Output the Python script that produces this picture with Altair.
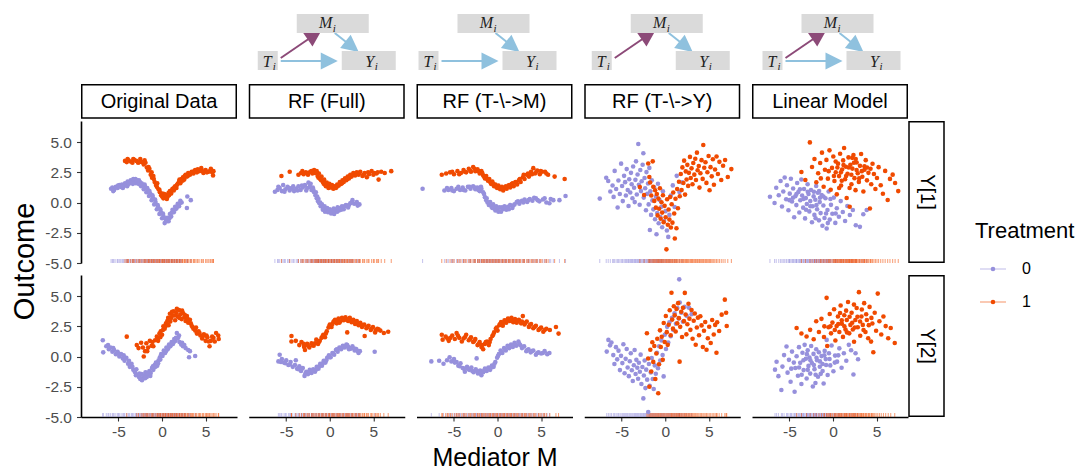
import math
import altair as alt
import pandas as pd

# ---------------- colours & text ----------------
PURPLE = "#9690dc"
ORANGE = "#f04a00"
DAG_PURPLE = "#8c4a78"
DAG_BLUE = "#8fc1de"
BOX_GRAY = "#dadada"
FONT = "Liberation Sans"

MODELS = ["Original Data", "RF (Full)", "RF (T-\\->M)", "RF (T-\\->Y)", "Linear Model"]
OUTCOMES = ["Y[1]", "Y[2]"]
TREATMENTS = ["0", "1"]
X_TICKS = [-5, 0, 5]
Y_TICKS = [-5.0, -2.5, 0.0, 2.5, 5.0]
X_DOMAIN = [-9.3, 8.6]
Y_DOMAIN = [-5.0, 6.75]
RUG_LEVEL = -5.0

# ---------------- data (mediator M, outcome) per panel ----------------
# Original Data, Y[1]
od1_t0 = [(-5.85,1.15),(-5.7,1.25),(-5.5,1.05),(-5.3,1.3),(-5.1,1.2),(-4.9,1.45),(-4.75,1.3),(-4.6,1.5),(-4.4,1.35),(-4.25,1.6),(-4.1,1.45),(-3.95,1.75),(-3.8,1.55),(-3.6,1.85),(-3.45,1.65),(-3.3,1.95),(-3.15,1.8),(-3.0,1.6),(-2.85,1.85),(-2.7,1.55),(-2.55,1.7),(-2.4,1.35),(-2.25,1.5),(-2.1,1.1),(-1.95,1.3),(-1.8,0.85),(-1.65,1.05),(-1.5,0.55),(-1.35,0.75),(-1.2,0.2),(-1.05,0.4),(-0.9,-0.15),(-0.75,0.05),(-0.6,-0.55),(-0.45,-0.35),(-0.3,-0.95),(-0.15,-0.75),(0.0,-1.3),(0.15,-1.1),(0.3,-1.7),(0.45,-1.45),(0.6,-1.25),(0.75,-1.55),(0.9,-0.95),(1.05,-1.15),(1.2,-0.6),(1.35,-0.8),(1.5,-0.35),(1.65,-0.5),(1.8,-0.1),(1.95,-0.3),(2.1,0.15),(2.25,0.0),(2.9,0.5),(2.85,-0.45)]
od1_t0_more = [(-5.6,0.95),(-5.05,1.4),(-4.5,1.2),(-4.0,1.35),(-3.7,1.65),(-3.35,1.55),(-3.05,1.95),(-2.65,1.85),(-2.35,1.6),(-2.0,1.5),(-1.7,1.2),(-1.45,0.95),(-1.1,0.6),(-0.8,0.25),(-0.5,-0.2),(-0.2,-0.55),(0.1,-0.9),(0.35,-1.3),(0.55,-1.55),(0.85,-1.3),(1.1,-0.85),(1.45,-0.6),(1.75,-0.3),(2.05,-0.05),(3.3,0.2)]
od1_t1 = [(-4.25,3.45),(-4.05,3.35),(-3.85,3.5),(-3.6,3.4),(-3.4,3.3),(-3.2,3.55),(-2.95,3.45),(-2.75,3.3),(-2.5,3.6),(-2.3,3.35),(-2.1,3.15),(-1.9,3.3),(-1.75,2.9),(-1.6,2.65),(-1.45,2.8),(-1.3,2.3),(-1.15,2.05),(-1.0,2.2),(-0.85,1.7),(-0.7,1.45),(-0.55,1.6),(-0.4,1.1),(-0.25,0.85),(-0.1,0.6),(0.05,0.75),(0.15,0.35),(0.3,0.5),(0.45,0.65),(0.6,0.45),(0.75,0.8),(0.9,0.95),(1.05,0.75),(1.2,1.15),(1.35,1.0),(1.5,1.35),(1.65,1.2),(1.8,1.55),(1.95,1.75),(2.1,1.6),(2.25,1.95),(2.4,2.1),(2.55,1.9),(2.7,2.3),(2.85,2.15),(3.0,2.45),(3.2,2.3),(3.4,2.55),(3.6,2.4),(3.8,2.7),(4.0,2.5),(4.25,2.6),(4.5,2.85),(4.75,2.45),(5.0,2.7),(5.3,2.55),(5.6,2.8),(5.85,2.25),(5.9,2.6)]
od1_t1_more = [(-3.95,3.6),(-3.3,3.6),(-2.6,3.35),(-2.0,3.5),(-1.55,2.95),(-1.2,2.5),(-0.95,1.95),(-0.6,1.3),(-0.3,1.05),(0.0,0.5),(0.25,0.7),(0.55,0.3),(0.8,0.6),(1.1,1.0),(1.4,1.25),(1.7,1.45),(2.0,1.9),(2.35,1.8),(2.6,2.2),(2.95,2.2),(3.3,2.4),(3.7,2.6),(4.1,2.75),(4.6,2.6),(5.15,2.5),(5.5,2.6),(5.75,2.5)]
# Original Data, Y[2]
od2_t0 = [(-6.8,1.35),(-6.75,0.35),(-6.4,0.85),(-6.1,0.6),(-5.9,0.75),(-5.7,0.4),(-5.5,0.55),(-5.3,0.2),(-5.1,0.4),(-4.9,0.0),(-4.7,0.2),(-4.5,-0.15),(-4.3,-0.35),(-4.1,-0.1),(-3.9,-0.6),(-3.7,-0.85),(-3.5,-0.6),(-3.3,-1.1),(-3.1,-1.3),(-2.95,-1.05),(-2.8,-1.5),(-2.65,-1.7),(-2.5,-1.85),(-2.35,-1.45),(-2.2,-1.75),(-2.05,-1.55),(-1.9,-1.3),(-1.75,-1.7),(-1.6,-1.45),(-1.45,-1.2),(-1.3,-1.35),(-1.15,-0.95),(-1.0,-1.1),(-0.85,-0.7),(-0.7,-0.5),(-0.55,-0.75),(-0.4,-0.3),(-0.25,-0.05),(-0.1,0.2),(0.05,0.05),(0.2,0.5),(0.35,0.3),(0.5,0.75),(0.65,0.6),(0.8,1.0),(0.95,0.85),(1.1,1.2),(1.25,1.05),(1.4,1.45),(1.55,1.3),(1.7,1.95),(1.85,1.55),(2.0,1.2),(2.2,1.0),(2.4,0.85),(2.7,0.7),(3.0,0.55),(3.2,0.45),(3.1,-0.05),(3.8,0.05)]
od2_t0_more = [(-6.2,0.95),(-5.6,0.7),(-5.0,0.25),(-4.4,0.1),(-3.8,-0.35),(-3.4,-0.85),(-3.0,-1.55),(-2.6,-1.4),(-2.3,-1.95),(-1.95,-1.8),(-1.7,-1.35),(-1.35,-1.6),(-1.05,-0.8),(-0.75,-0.85),(-0.45,-0.55),(-0.2,-0.25),(0.15,0.25),(0.45,0.45),(0.75,0.75),(1.05,1.0),(1.35,1.2),(1.6,1.55),(1.95,1.75),(2.3,1.15),(2.55,0.95)]
od2_t1 = [(-4.05,1.65),(-2.9,0.95),(-2.7,0.7),(-2.4,1.15),(-2.1,0.0),(-1.95,0.45),(-1.8,1.1),(-1.6,0.75),(-1.4,1.3),(-1.2,0.9),(-1.0,0.85),(-0.8,1.35),(-0.6,1.65),(-0.45,1.3),(-0.3,1.9),(-0.15,2.1),(0.0,1.8),(0.15,2.5),(0.3,2.3),(0.45,2.75),(0.6,2.95),(0.75,2.6),(0.9,3.55),(1.05,3.2),(1.2,3.4),(1.35,3.75),(1.5,3.0),(1.65,3.6),(1.8,3.3),(1.95,3.85),(2.1,3.5),(2.25,3.1),(2.4,3.6),(2.55,3.25),(2.7,2.95),(2.85,3.35),(3.0,2.8),(3.2,3.05),(3.4,2.55),(3.6,2.3),(3.8,2.15),(4.0,1.9),(4.2,2.1),(4.4,1.75),(4.6,1.5),(4.8,1.85),(5.0,1.3),(5.2,1.6),(5.45,0.85),(5.6,1.3),(5.9,1.55),(6.2,1.95),(6.45,1.75),(6.5,1.45)]
od2_t1_more = [(-2.2,0.75),(-1.7,0.45),(-1.1,1.2),(-0.5,1.45),(-0.2,1.6),(0.1,2.2),(0.4,2.5),(0.7,3.2),(0.95,2.9),(1.15,3.7),(1.45,3.4),(1.7,3.95),(2.0,3.2),(2.3,3.8),(2.6,3.45),(2.95,3.1),(3.3,2.75),(3.5,2.45),(3.9,2.4),(4.3,1.95),(4.7,1.7),(5.1,1.75),(5.35,1.25),(5.75,1.65),(6.05,1.25)]
# RF (Full), Y[1]
rf1_t0 = [(-6.3,0.9),(-6.0,1.05),(-5.75,1.2),(-5.5,0.95),(-5.35,1.45),(-5.1,1.1),(-4.85,1.3),(-4.6,1.0),(-4.35,1.2),(-4.1,0.95),(-3.85,1.15),(-3.6,1.35),(-3.35,1.05),(-3.1,1.25),(-2.85,1.45),(-2.6,1.2),(-2.45,1.65),(-2.3,1.3),(-2.1,1.05),(-1.95,1.25),(-1.8,0.85),(-1.65,0.6),(-1.5,0.35),(-1.35,0.1),(-1.2,-0.05),(-1.05,-0.3),(-0.9,-0.15),(-0.75,-0.45),(-0.6,-0.3),(-0.45,-0.6),(-0.3,-0.45),(-0.15,-0.7),(0.0,-0.55),(0.15,-0.9),(0.3,-0.65),(0.45,-0.5),(0.6,-0.75),(0.75,-0.55),(0.9,-0.4),(1.05,-0.65),(1.2,-0.45),(1.4,-0.3),(1.6,-0.55),(1.85,-0.2),(2.1,-0.4),(2.35,-0.05),(2.6,0.2),(2.8,-0.1),(3.1,0.05),(3.4,-0.15)]
rf1_t0_more = [(-5.9,1.3),(-5.2,0.9),(-4.7,1.2),(-4.2,1.35),(-3.7,1.0),(-3.2,1.4),(-2.7,1.0),(-2.2,1.55),(-1.9,1.1),(-1.6,0.85),(-1.45,0.5),(-1.3,0.3),(-1.1,0.0),(-0.8,-0.6),(-0.55,-0.75),(-0.2,-0.8),(0.2,-0.7),(0.5,-0.95),(0.85,-0.75),(1.3,-0.6),(1.7,-0.3),(2.2,-0.2),(2.5,0.0),(3.2,-0.25)]
rf1_t1 = [(-5.55,2.2),(-4.6,2.55),(-3.6,2.3),(-3.3,2.45),(-3.0,2.35),(-2.75,2.5),(-2.5,2.3),(-2.25,2.55),(-2.0,2.4),(-1.8,2.7),(-1.6,2.5),(-1.4,2.2),(-1.25,2.4),(-1.1,1.95),(-0.95,2.15),(-0.8,1.7),(-0.65,1.9),(-0.5,1.5),(-0.35,1.65),(-0.2,1.35),(-0.05,1.55),(0.1,1.25),(0.25,1.45),(0.4,1.15),(0.55,1.35),(0.7,1.2),(0.85,1.5),(1.0,1.4),(1.15,1.7),(1.3,1.55),(1.45,1.85),(1.6,1.7),(1.75,2.0),(1.9,1.85),(2.05,2.15),(2.2,2.0),(2.35,2.3),(2.5,2.15),(2.7,2.45),(2.9,2.25),(3.1,2.5),(3.3,2.3),(3.5,2.55),(3.75,2.2),(4.0,2.45),(4.25,2.1),(4.5,2.35),(4.8,2.6),(5.1,2.45),(5.35,2.4),(5.6,1.9),(5.9,2.55),(6.3,2.45),(7.05,2.6)]
rf1_t1_more = [(-3.15,2.6),(-2.6,2.45),(-2.1,2.6),(-1.7,2.45),(-1.5,2.6),(-1.3,2.05),(-1.0,1.85),(-0.7,1.55),(-0.45,1.35),(-0.15,1.2),(0.2,1.3),(0.5,1.2),(0.8,1.3),(1.1,1.5),(1.4,1.6),(1.7,1.9),(2.0,1.95),(2.3,2.15),(2.6,2.3),(3.0,2.4),(3.4,2.45),(3.9,2.3),(4.4,2.5),(5.0,2.3),(5.5,2.5)]
# RF (Full), Y[2]
rf2_t0 = [(-5.9,-0.4),(-5.75,0.15),(-5.5,-0.2),(-5.25,-0.5),(-5.0,-0.3),(-4.75,-0.7),(-4.5,-0.45),(-4.25,-0.85),(-3.9,-0.3),(-3.75,-1.0),(-3.5,-0.8),(-3.3,-1.2),(-3.1,-0.95),(-2.9,-1.6),(-2.7,-1.25),(-2.5,-1.45),(-2.3,-1.1),(-2.1,-1.35),(-1.9,-1.05),(-1.7,-1.25),(-1.5,-0.85),(-1.3,-1.0),(-1.1,-0.6),(-0.9,-0.75),(-0.7,-0.35),(-0.5,-0.5),(-0.3,-0.1),(-0.1,0.1),(0.1,-0.05),(0.3,0.3),(0.5,0.15),(0.7,0.55),(0.9,0.4),(1.1,0.75),(1.3,0.6),(1.5,0.9),(1.7,0.75),(1.9,1.0),(2.1,0.8),(2.35,0.65),(2.6,0.85),(2.85,0.5),(3.05,0.6),(3.3,0.3),(3.45,0.45),(5.15,0.4)]
rf2_t0_more = [(-5.6,-0.45),(-5.1,-0.55),(-4.6,-0.65),(-4.0,-0.7),(-3.6,-1.05),(-3.2,-1.0),(-2.8,-1.4),(-2.4,-1.3),(-2.0,-1.2),(-1.6,-1.1),(-1.2,-0.8),(-0.8,-0.55),(-0.4,-0.3),(0.0,-0.05),(0.4,0.25),(0.8,0.6),(1.2,0.7),(1.6,0.85),(2.0,0.95),(2.2,0.6),(2.5,0.7),(2.95,0.65),(3.2,0.45)]
rf2_t1 = [(-4.4,1.7),(-4.4,1.25),(-3.9,1.3),(-3.5,0.95),(-3.25,1.2),(-2.95,0.8),(-2.85,0.55),(-2.6,1.05),(-2.35,0.75),(-2.1,1.1),(-1.85,0.9),(-1.55,1.4),(-1.35,1.05),(-1.15,1.3),(-0.95,1.55),(-0.75,1.8),(-0.55,1.6),(-0.35,2.1),(-0.15,2.4),(0.0,2.65),(0.2,2.45),(0.4,2.85),(0.6,3.05),(0.8,2.75),(1.0,3.15),(1.2,2.9),(1.4,3.2),(1.6,3.0),(1.8,3.25),(2.0,2.0),(2.1,2.95),(2.3,3.2),(2.5,2.85),(2.7,3.05),(2.9,2.7),(3.1,2.95),(3.3,2.6),(3.5,2.8),(3.7,2.45),(3.95,2.65),(4.0,1.7),(4.2,2.35),(4.45,2.55),(4.7,2.2),(4.95,2.45),(5.2,2.0),(5.45,2.3),(5.8,2.15),(6.2,1.95),(6.7,2.05)]
rf2_t1_more = [(-3.0,1.05),(-2.5,0.9),(-2.0,0.95),(-1.7,1.1),(-1.25,1.2),(-0.85,1.65),(-0.45,1.9),(-0.05,2.5),(0.3,2.7),(0.5,2.95),(0.9,3.0),(1.1,2.8),(1.5,3.1),(1.9,3.05),(2.2,3.1),(2.6,3.0),(3.0,2.85),(3.4,2.7),(3.8,2.6),(4.3,2.45),(4.8,2.3),(5.3,2.2),(5.6,2.25)]
# RF (T-\->M), Y[1]
nm1_t0 = [(-8.6,1.15),(-6.1,1.0),(-5.65,1.05),(-5.3,1.2),(-5.0,0.95),(-4.7,1.15),(-4.3,1.05),(-4.0,1.25),(-3.7,1.0),(-3.4,1.3),(-3.1,1.15),(-2.8,1.35),(-2.55,1.1),(-2.3,1.25),(-2.05,0.95),(-1.85,1.15),(-1.65,0.85),(-1.45,0.45),(-1.3,0.2),(-1.15,0.0),(-1.0,-0.2),(-0.85,0.05),(-0.7,-0.35),(-0.5,-0.15),(-0.35,-0.5),(-0.15,-0.3),(0.0,-0.6),(0.2,-0.4),(0.4,-0.75),(0.6,-0.55),(0.8,-0.3),(1.0,-0.6),(1.2,-0.35),(1.45,-0.2),(1.7,-0.45),(1.95,-0.15),(2.2,0.05),(2.5,-0.1),(2.8,0.15),(3.1,0.25),(3.4,0.05),(3.7,0.3),(4.0,0.15),(4.4,0.35),(4.8,0.1),(5.2,0.25),(5.6,0.0),(5.95,-0.05),(6.4,0.2),(7.1,0.2),(7.8,0.55)]
nm1_t0_more = [(-5.8,1.2),(-5.2,1.0),(-4.5,1.3),(-3.9,1.05),(-3.2,1.3),(-2.6,1.25),(-2.2,1.05),(-1.9,1.3),(-1.55,0.7),(-1.25,0.35),(-0.95,0.0),(-0.6,-0.45),(-0.25,-0.65),(0.1,-0.75),(0.5,-0.4),(0.9,-0.5),(1.3,-0.55),(1.8,-0.25),(2.35,0.1),(2.95,0.0),(3.55,0.2),(4.2,0.4),(4.6,0.2),(5.4,0.35),(6.1,0.3)]
nm1_t1 = [(-6.4,2.3),(-5.9,2.4),(-5.45,2.5),(-5.0,2.35),(-4.6,2.6),(-4.2,2.45),(-3.9,2.7),(-3.6,2.5),(-3.3,2.8),(-3.05,2.55),(-2.8,2.95),(-2.55,2.6),(-2.3,2.75),(-2.05,2.4),(-1.85,2.6),(-1.65,2.25),(-1.45,2.0),(-1.3,2.2),(-1.1,1.8),(-0.95,1.95),(-0.75,1.55),(-0.6,1.75),(-0.4,1.35),(-0.25,1.5),(-0.05,1.2),(0.1,1.4),(0.3,1.1),(0.5,1.3),(0.65,1.0),(0.85,1.25),(1.05,1.15),(1.25,1.4),(1.45,1.25),(1.65,1.55),(1.85,1.35),(2.05,1.7),(2.25,1.5),(2.45,1.85),(2.65,1.7),(2.9,2.1),(3.1,1.95),(3.35,2.3),(3.6,2.15),(3.85,2.55),(4.1,2.85),(4.3,2.4),(4.55,2.65),(4.85,2.35),(5.1,2.55),(5.45,2.55),(5.8,2.3),(6.55,2.15),(7.7,1.95)]
nm1_t1_more = [(-5.2,2.55),(-4.4,2.35),(-3.75,2.55),(-3.15,2.65),(-2.65,2.8),(-2.15,2.6),(-1.75,2.45),(-1.55,2.15),(-1.2,1.95),(-0.85,1.7),(-0.5,1.55),(-0.15,1.3),(0.2,1.2),(0.6,1.15),(0.95,1.35),(1.35,1.45),(1.75,1.6),(2.15,1.65),(2.55,1.95),(3.0,2.3),(3.5,2.4),(3.95,2.35),(4.45,2.55),(4.95,2.6),(5.6,2.4)]
# RF (T-\->M), Y[2]
nm2_t0 = [(-7.6,-0.4),(-6.7,-0.35),(-6.2,-0.6),(-5.5,-0.05),(-5.3,-0.4),(-5.0,-0.2),(-4.7,-0.45),(-4.5,-0.75),(-4.25,-0.55),(-4.0,-0.95),(-3.75,-1.25),(-3.5,-0.85),(-3.25,-1.1),(-3.0,-0.9),(-2.75,-1.3),(-2.4,-0.15),(-2.5,-1.05),(-2.25,-1.4),(-2.0,-1.15),(-1.85,-1.55),(-1.65,-1.3),(-1.45,-1.0),(-1.25,-1.2),(-1.05,-0.9),(-0.85,-1.1),(-0.65,-0.75),(-0.45,-0.85),(-0.25,-0.45),(-0.05,-0.1),(0.15,0.2),(0.35,0.5),(0.55,0.3),(0.75,0.7),(0.95,0.5),(1.15,0.9),(1.35,0.7),(1.55,1.0),(1.75,0.8),(1.95,1.15),(2.15,0.9),(2.4,1.25),(2.6,0.95),(2.8,0.7),(3.05,0.85),(3.3,0.45),(3.55,0.6),(3.8,0.35),(4.1,0.5),(4.4,0.15),(4.7,0.35),(5.0,0.25),(5.4,0.45),(5.7,0.2),(5.95,0.3)]
nm2_t0_more = [(-5.8,-0.3),(-4.9,-0.5),(-4.35,-0.8),(-3.85,-1.0),(-3.4,-1.0),(-2.9,-1.2),(-2.35,-1.2),(-1.95,-1.35),(-1.55,-1.15),(-1.15,-1.05),(-0.75,-0.9),(-0.35,-0.6),(0.05,0.05),(0.45,0.35),(0.85,0.6),(1.25,0.8),(1.65,0.9),(2.05,1.0),(2.5,1.05),(2.9,0.8),(3.4,0.55),(3.95,0.45),(4.55,0.3),(5.2,0.3)]
nm2_t1 = [(-6.4,1.8),(-6.3,1.4),(-5.95,1.65),(-5.6,1.3),(-5.2,1.75),(-4.9,1.45),(-4.7,1.95),(-4.4,1.55),(-4.1,1.25),(-3.9,1.5),(-3.6,1.8),(-3.3,1.35),(-3.05,1.6),(-2.8,1.2),(-2.55,1.45),(-2.3,0.95),(-2.05,1.2),(-1.85,0.8),(-1.65,0.6),(-1.45,1.05),(-1.2,1.25),(-1.0,0.95),(-0.8,1.45),(-0.6,1.7),(-0.4,2.0),(-0.2,2.3),(0.0,2.15),(0.2,2.6),(0.4,2.85),(0.6,2.55),(0.8,3.0),(1.0,2.8),(1.2,3.15),(1.4,2.95),(1.6,3.2),(1.8,2.85),(2.0,3.1),(2.2,2.8),(2.45,3.05),(2.7,2.75),(2.9,3.35),(3.1,2.65),(3.35,2.9),(3.6,2.45),(3.85,2.7),(4.1,2.35),(4.4,2.55),(4.7,2.2),(5.0,2.4),(5.25,2.05),(5.6,2.3),(6.0,2.2),(6.7,2.45),(7.0,1.9)]
nm2_t1_more = [(-5.75,1.5),(-5.4,1.55),(-4.55,1.75),(-3.75,1.6),(-3.15,1.45),(-2.65,1.3),(-2.15,1.05),(-1.75,0.95),(-1.35,1.2),(-0.9,1.2),(-0.5,1.8),(-0.1,2.4),(0.3,2.7),(0.7,2.8),(1.1,3.0),(1.5,3.05),(1.9,3.0),(2.3,2.95),(2.8,2.9),(3.2,2.8),(3.7,2.6),(4.25,2.45),(4.85,2.3),(5.4,2.2)]
# RF (T-\->Y), Y[1]
ny1_t0 = [(-7.52,0.33),(-6.78,2.05),(-6.55,1.78),(-6.31,0.92),(-6.05,1.41),(-5.93,0.47),(-5.81,2.62),(-5.64,1.12),(-5.47,-0.41),(-5.38,1.83),(-5.22,0.71),(-5.07,3.22),(-4.96,1.37),(-4.88,0.12),(-4.73,2.21),(-4.61,1.69),(-4.52,0.58),(-4.43,2.77),(-4.31,1.04),(-4.22,-0.28),(-4.14,1.93),(-4.02,0.83),(-3.94,2.46),(-3.86,1.51),(-3.77,0.36),(-3.69,2.98),(-3.58,1.22),(-3.51,0.04),(-3.43,1.88),(-3.36,3.41),(-3.27,0.67),(-3.18,2.33),(-3.1,4.84),(-3.03,1.47),(-2.94,-0.18),(-2.87,2.69),(-2.79,0.95),(-2.71,1.76),(-2.6,3.13),(-2.52,4.08),(-2.47,0.41),(-2.38,2.04),(-2.31,1.19),(-2.22,-0.63),(-2.16,2.52),(-2.07,0.72),(-1.98,1.58),(-1.91,-0.15),(-1.83,2.87),(-1.77,-2.27),(-1.72,0.93),(-1.63,-1.02),(-1.55,1.84),(-1.48,0.18),(-1.37,-0.56),(-1.29,1.27),(-1.18,-1.38),(-1.07,0.49),(-1.01,-2.62),(-0.93,-0.87),(-0.84,1.56),(-0.76,-1.71),(-0.66,0.21),(-0.57,-1.19),(-0.45,-0.34),(-0.36,-2.04),(-0.27,0.93),(-0.14,-1.52),(0.02,-0.71),(0.18,-2.31),(0.34,-2.84),(0.47,-1.02),(0.63,0.58),(0.86,1.42),(1.07,-0.36),(1.31,2.21),(1.62,0.88),(1.94,1.67)]
ny1_t1 = [(-2.92,1.28),(-2.43,0.63),(-1.96,3.24),(-1.83,2.12),(-1.74,1.66),(-1.61,0.58),(-1.44,3.41),(-1.38,1.31),(-1.26,0.14),(-1.17,1.02),(-1.08,-0.42),(-0.97,0.71),(-0.88,-1.06),(-0.79,0.33),(-0.71,-0.51),(-0.62,1.18),(-0.53,-1.34),(-0.44,0.02),(-0.36,-0.83),(-0.27,0.61),(-0.19,-1.62),(-0.08,-0.27),(0.04,-1.21),(0.13,-3.87),(0.21,0.27),(0.29,-1.83),(0.38,-0.58),(0.47,-1.41),(0.56,0.46),(0.64,-2.06),(0.73,-0.14),(0.82,-1.66),(0.91,0.84),(1.02,-0.91),(1.09,-2.97),(1.17,0.31),(1.28,-2.12),(1.36,1.12),(1.45,-0.47),(1.57,1.73),(1.66,0.52),(1.78,2.36),(1.87,1.04),(1.96,2.91),(2.08,1.62),(2.16,3.47),(2.27,0.66),(2.35,2.58),(2.44,1.91),(2.53,3.12),(2.62,1.38),(2.71,2.46),(2.83,3.78),(2.92,2.04),(3.01,2.83),(3.12,1.52),(3.21,3.27),(3.33,2.31),(3.44,3.62),(3.52,1.87),(3.63,4.13),(3.71,2.67),(3.84,3.03),(3.92,1.24),(4.03,2.42),(4.16,3.51),(4.29,1.96),(4.36,4.77),(4.47,2.88),(4.61,3.33),(4.72,1.63),(4.83,2.51),(4.97,3.86),(5.08,1.02),(5.19,2.93),(5.33,2.17),(5.46,3.58),(5.58,1.48),(5.71,2.74),(5.88,3.81),(6.04,2.36),(6.21,3.37),(6.42,1.87),(6.63,3.05),(6.86,3.52),(7.17,2.12),(7.58,2.77)]
# RF (T-\->Y), Y[2]
ny2_t0 = [(-6.72,0.41),(-6.53,1.38),(-6.34,0.93),(-6.18,1.16),(-5.97,0.12),(-5.84,-0.61),(-5.66,0.78),(-5.52,-0.23),(-5.37,0.49),(-5.21,-1.12),(-5.08,0.06),(-4.93,-0.54),(-4.81,1.02),(-4.67,-1.38),(-4.55,-0.19),(-4.43,0.62),(-4.32,-0.91),(-4.18,-1.62),(-4.07,-0.38),(-3.96,0.27),(-3.84,-1.13),(-3.73,-2.02),(-3.61,-0.72),(-3.52,0.54),(-3.41,-1.44),(-3.32,-0.27),(-3.21,-0.93),(-3.12,-1.83),(-3.03,-0.51),(-2.92,-1.26),(-2.83,0.16),(-2.74,-2.27),(-2.63,-0.86),(-2.52,-3.46),(-2.46,-1.57),(-2.37,-0.32),(-2.28,-2.61),(-2.19,-1.08),(-2.08,-1.91),(-1.96,-4.58),(-1.88,-0.61),(-1.79,-2.42),(-1.67,-1.31),(-1.56,-0.12),(-1.44,-1.86),(-1.33,-2.68),(-1.21,-0.73),(-1.09,-1.42),(-0.96,0.31),(-0.84,-0.96),(-0.71,0.86),(-0.58,-0.33),(-0.44,1.34),(-0.31,0.12),(-0.19,-1.64),(-0.06,1.81),(0.08,0.63),(0.21,2.46),(0.34,1.17),(0.47,2.83),(0.62,1.68),(0.77,3.21),(0.91,2.21),(1.06,3.58),(1.22,2.72),(1.38,4.02),(1.53,3.16),(1.6,6.39),(1.66,4.47),(1.83,3.62),(2.02,2.88),(2.21,4.11),(2.45,3.37),(2.72,4.04),(3.02,3.51)]
ny2_t1 = [(-2.11,1.93),(-1.97,-0.16),(-1.83,-2.49),(-1.72,0.57),(-1.61,-1.23),(-1.49,1.18),(-1.38,-0.44),(-1.26,0.88),(-1.14,-1.86),(-1.03,0.26),(-0.92,1.47),(-0.81,-3.04),(-0.72,-0.63),(-0.61,2.17),(-0.52,0.79),(-0.41,1.64),(-0.29,-0.27),(-0.18,2.78),(-0.07,1.21),(0.06,3.36),(0.17,2.02),(0.28,0.97),(0.39,2.63),(0.51,3.84),(0.62,1.77),(0.71,5.28),(0.79,3.06),(0.88,2.31),(0.98,4.17),(1.08,3.41),(1.19,2.08),(1.28,3.93),(1.37,2.76),(1.47,4.42),(1.56,3.18),(1.64,-0.42),(1.71,2.46),(1.83,3.71),(1.92,1.62),(2.03,4.03),(2.14,2.93),(2.24,5.27),(2.33,3.48),(2.42,1.84),(2.53,2.67),(2.66,4.37),(2.77,3.14),(2.88,2.21),(3.01,3.86),(3.13,1.47),(3.26,2.97),(3.38,3.56),(3.49,0.98),(3.62,2.41),(3.74,3.22),(3.87,1.76),(4.02,3.34),(4.16,2.58),(4.31,0.79),(4.44,2.13),(4.58,2.86),(4.73,0.57),(4.88,1.52),(5.04,2.47),(5.21,1.12),(5.38,3.03),(5.56,1.83),(5.72,2.62),(5.87,0.31),(5.95,2.84),(6.18,2.11),(6.47,3.47),(6.83,4.71),(6.98,3.62),(7.05,2.53)]
# Linear Model, Y[1]
lm1_t0 = [(-7.24,0.48),(-6.71,-0.04),(-6.52,1.22),(-6.23,0.61),(-6.02,1.78),(-5.86,-0.33),(-5.71,0.92),(-5.55,2.07),(-5.38,0.27),(-5.29,1.43),(-5.12,-0.64),(-4.97,0.74),(-4.84,1.97),(-4.71,0.09),(-4.58,1.16),(-4.46,-1.22),(-4.33,0.53),(-4.21,-0.21),(-4.12,1.62),(-3.98,0.88),(-3.87,-0.82),(-3.76,0.19),(-3.64,1.91),(-3.55,0.58),(-3.43,-0.42),(-3.33,1.13),(-3.21,-1.31),(-3.12,0.37),(-3.01,-0.12),(-2.92,1.52),(-2.81,0.71),(-2.72,-0.73),(-2.61,0.12),(-2.53,1.04),(-2.42,-1.63),(-2.34,-0.31),(-2.23,0.51),(-2.14,-1.02),(-2.03,0.23),(-1.94,1.37),(-1.83,-0.55),(-1.74,0.81),(-1.62,-1.47),(-1.53,0.04),(-1.43,-0.87),(-1.31,0.63),(-1.22,-1.92),(-1.11,-0.24),(-0.98,-1.28),(-0.87,0.36),(-0.73,-2.14),(-0.64,-0.62),(-0.51,0.92),(-0.38,-1.41),(-0.24,-0.19),(-0.08,-0.93),(0.09,0.41),(0.26,-1.68),(0.43,-0.47),(0.67,-1.17),(0.88,0.12),(1.12,-0.78),(1.38,-1.52),(1.64,-0.28),(1.93,-1.03),(2.27,-0.61),(2.61,-1.87),(3.08,-2.01),(3.47,-0.97),(3.86,-0.61)]
lm1_t0_more = [(-4.6,0.4),(-3.8,1.1),(-3.4,0.3),(-2.9,0.9),(-2.6,-0.3),(-2.2,0.9),(-1.9,-0.2),(-1.5,0.4),(-1.1,0.5),(-0.8,-0.9),(-0.3,0.3),(-3.1,-0.6),(-4.2,0.7),(-2.0,-1.3),(0.3,-0.9),(-1.6,0.95),(-5.0,0.2),(-0.6,-1.7)]
lm1_t1 = [(-3.63,2.53),(-3.18,1.87),(-2.66,4.98),(-2.41,2.94),(-2.13,3.61),(-1.92,1.68),(-1.71,2.42),(-1.48,3.27),(-1.27,4.13),(-1.08,1.31),(-0.93,2.71),(-0.76,3.53),(-0.59,1.98),(-0.41,4.32),(-0.27,1.06),(-0.12,2.87),(0.03,3.81),(0.16,1.78),(0.31,2.51),(0.43,0.68),(0.57,3.22),(0.69,2.19),(0.81,4.04),(0.92,1.41),(1.04,2.73),(1.16,3.49),(1.27,4.52),(1.38,1.93),(1.47,2.96),(1.56,0.38),(1.66,2.38),(1.77,3.74),(1.91,-0.34),(1.99,3.12),(2.11,1.52),(2.22,2.81),(2.34,3.93),(2.46,2.02),(2.58,1.03),(2.71,3.32),(2.83,2.43),(2.96,1.71),(3.09,3.04),(3.22,4.02),(3.36,2.14),(3.48,0.91),(3.61,2.72),(3.75,3.51),(3.89,1.84),(4.06,2.46),(4.23,-0.49),(4.38,1.51),(4.53,3.21),(4.69,2.37),(4.86,1.12),(5.04,2.04),(5.23,2.93),(5.47,1.43),(5.72,0.73),(5.98,2.62),(6.27,0.21),(6.53,1.96),(6.84,2.31),(7.12,1.62),(7.48,0.95)]
lm1_t1_more = [(-0.5,2.6),(0.1,2.2),(0.5,2.9),(0.9,2.5),(1.2,3.1),(1.5,2.2),(1.8,2.9),(2.1,2.3),(2.4,3.3),(2.7,2.7),(3.0,2.0),(3.3,2.6),(3.6,3.0),(0.3,3.4),(1.0,1.8),(1.9,1.2),(2.6,3.6),(3.9,2.9),(4.3,2.8),(-1.4,2.0),(0.7,1.2),(2.2,3.7)]
# Linear Model, Y[2]
lm2_t0 = [(-6.66,-1.08),(-6.48,-0.43),(-6.27,-1.62),(-5.93,-2.77),(-5.81,-0.83),(-5.62,0.12),(-5.34,0.84),(-5.22,-1.33),(-5.06,-0.27),(-4.87,-2.08),(-4.71,0.41),(-4.41,-2.91),(-4.33,-0.94),(-4.18,0.02),(-4.03,-1.58),(-3.91,0.78),(-3.77,-0.52),(-3.63,-2.27),(-3.51,0.31),(-3.38,-1.12),(-3.26,0.97),(-3.12,-0.18),(-3.03,-1.81),(-2.91,0.53),(-2.82,-0.77),(-2.71,-0.08),(-2.62,-1.41),(-2.51,0.88),(-2.43,-0.53),(-2.32,-2.47),(-2.24,0.22),(-2.13,-1.04),(-2.02,-2.18),(-1.93,0.61),(-1.84,-0.31),(-1.73,-1.67),(-1.63,0.36),(-1.52,-0.84),(-1.41,-1.43),(-1.32,0.04),(-1.21,-0.62),(-1.08,-2.23),(-0.96,0.47),(-0.84,-0.21),(-0.73,1.38),(-0.62,-1.52),(-0.47,0.28),(-0.32,-0.73),(-0.17,0.91),(0.04,-1.21),(0.23,0.08),(0.46,-0.42),(0.72,0.68),(0.98,-0.93),(1.24,0.27),(1.52,-0.34),(1.81,0.97),(2.07,0.52),(2.34,-1.49),(2.58,0.27),(2.87,-0.22)]
lm2_t0_more = [(-4.5,-0.5),(-3.9,-0.9),(-3.4,-0.3),(-2.9,-1.1),(-2.6,-0.3),(-2.2,-0.7),(-1.9,-0.1),(-1.5,-0.4),(-1.2,-1.2),(-0.8,-0.7),(-0.4,-0.2),(0.2,-0.5),(-3.0,0.2),(-2.0,-1.5),(-1.0,0.1),(0.6,0.1),(-4.8,-1.0),(-3.6,-1.5)]
lm2_t1 = [(-4.18,2.36),(-3.63,1.91),(-3.04,1.66),(-2.63,2.21),(-2.22,1.43),(-1.93,2.92),(-1.62,2.03),(-1.33,3.12),(-1.04,1.62),(-0.74,4.86),(-0.67,0.87),(-0.52,2.43),(-0.38,3.52),(-0.23,1.92),(-0.07,2.81),(0.12,3.91),(0.27,1.33),(0.41,2.52),(0.56,3.31),(0.72,2.04),(0.87,4.22),(1.01,2.71),(1.14,1.63),(1.29,3.42),(1.43,2.23),(1.58,3.02),(1.72,4.51),(1.86,1.92),(1.99,2.62),(2.13,3.62),(2.27,2.24),(2.41,1.22),(2.56,3.03),(2.71,4.02),(2.84,2.43),(2.97,5.33),(3.12,1.73),(3.26,3.31),(3.41,2.62),(3.57,4.42),(3.72,2.04),(3.88,3.02),(4.03,1.52),(4.19,4.11),(4.36,1.24),(4.51,2.73),(4.62,0.36),(4.78,3.62),(4.94,2.13),(5.13,5.21),(5.32,2.92),(5.53,1.82),(5.78,3.31),(6.04,2.52),(6.33,1.51),(6.62,2.37),(7.08,1.12)]
lm2_t1_more = [(-0.3,2.5),(0.2,2.2),(0.6,2.7),(1.0,3.0),(1.3,2.5),(1.6,2.0),(1.9,3.3),(2.2,2.8),(2.5,2.4),(2.8,3.3),(3.1,2.9),(3.5,2.2),(3.8,3.5),(4.1,2.6),(0.8,3.6),(1.5,3.8),(2.4,4.3),(4.4,3.2),(-1.0,2.5),(3.3,3.9)]

PANEL_DATA = [
    [(od1_t0 + od1_t0_more, od1_t1 + od1_t1_more), (rf1_t0 + rf1_t0_more, rf1_t1 + rf1_t1_more),
     (nm1_t0 + nm1_t0_more, nm1_t1 + nm1_t1_more), (ny1_t0, ny1_t1),
     (lm1_t0 + lm1_t0_more, lm1_t1 + lm1_t1_more)],
    [(od2_t0 + od2_t0_more, od2_t1 + od2_t1_more), (rf2_t0 + rf2_t0_more, rf2_t1 + rf2_t1_more),
     (nm2_t0 + nm2_t0_more, nm2_t1 + nm2_t1_more), (ny2_t0, ny2_t1),
     (lm2_t0 + lm2_t0_more, lm2_t1 + lm2_t1_more)],
]

# ---------------- causal diagram (pixel layout inside the diagram cell) ----------------
DAG_NODES = ["M", "T", "Y"]
DAG_BOX_X = [48, 9, 93]
DAG_BOX_X2 = [120, 29, 147]
DAG_BOX_Y = [0, 37, 37]
DAG_BOX_Y2 = [19, 56, 56]
DAG_LABEL_X = [77, 18.5, 121]
DAG_LABEL_Y = [14, 52.5, 52.5]
DAG_SUB_X = [85.5, 25.5, 127.5]
DAG_SUB_Y = [17.5, 56, 56]
DAG_EDGE_NAMES = ["TM", "MY", "TY"]
DAG_EDGE_FROM = [(32, 44), (86, 19), (32, 47)]
DAG_EDGE_TIP = [(73, 16), (110, 38), (89, 47)]
DAG_EDGE_COLOR = [DAG_PURPLE, DAG_BLUE, DAG_BLUE]
DAG_EDGES = [None, ["TM", "MY", "TY"], ["MY", "TY"], ["TM", "MY"], ["TM", "MY", "TY"]]
DAG_SHIFT = [0, 0, -7, -1.5, 1.5]
HEAD_LEN = 17
ARROW_PATH = "M1,0L-1,-1L-1,1Z"

# ---------------- layout ----------------
PW, PH = 156, 142
DAG_H = 58
STRIP_H = 25
STRIP_BOX_H = 34
RS_W = 25
LEG_W = 110
COL_GAP = 11.75
ROW_GAP = 12

NEG1 = "datum.value < 0 ? '-' + format(-datum.value, '.1f') : format(datum.value, '.1f')"
NEG0 = "datum.value < 0 ? '-' + format(-datum.value, 'd') : format(datum.value, 'd')"


def pix(n):
    return alt.Scale(domain=[0, n], range=[0, n])


def blank(w=1, h=1):
    return alt.Chart(pd.DataFrame({"a": [0]})).mark_point(opacity=0, size=1).encode(
        x=alt.value(w / 2), y=alt.value(h / 2)).properties(width=w, height=h)


def panel(r, c):
    p0, p1 = PANEL_DATA[r][c]
    df = pd.DataFrame({
        "m": [p[0] for p in p0] + [p[0] for p in p1],
        "y": [p[1] for p in p0] + [p[1] for p in p1],
        "t": ["0"] * len(p0) + ["1"] * len(p1),
    })
    df["rug"] = RUG_LEVEL
    xs = alt.Scale(domain=X_DOMAIN, nice=False, zero=False)
    ys = alt.Scale(domain=Y_DOMAIN, nice=False, zero=False)
    color = alt.Color("t:N", scale=alt.Scale(domain=TREATMENTS, range=[PURPLE, ORANGE]), legend=None)

    if r == 1:
        xaxis = alt.Axis(values=X_TICKS, labelExpr=NEG0, grid=False, labelFontSize=15.5,
                         labelColor="#4d4d4d", labelFont=FONT, tickColor="#333333", tickSize=4,
                         tickWidth=1.1, domainColor="black", domainWidth=1.6, labelPadding=3,
                         titleFontSize=25, titleFont=FONT, titleColor="black", titleFontWeight="normal",
                         titleX=PW / 2, titleY=48, titleAlign="center", titleBaseline="alphabetic")
        xtitle = "Mediator M" if c == 2 else None
    else:
        xaxis = None
        xtitle = None
    if c == 0:
        yaxis = alt.Axis(values=Y_TICKS, labelExpr=NEG1, grid=False, labelFontSize=15.5,
                         labelColor="#4d4d4d", labelFont=FONT, tickColor="#333333", tickSize=4.5,
                         tickWidth=1.1, domainColor="black", domainWidth=1.6, labelPadding=5,
                         titleFontSize=29, titleFont=FONT, titleColor="black", titleFontWeight="normal",
                         titleX=-57, titleY=-14, titleAngle=270, titleAlign="center",
                         titleBaseline="middle")
        ytitle = "Outcome" if r == 1 else None
    else:
        yaxis = None
        ytitle = None

    base = alt.Chart(df)
    rug = base.mark_tick(orient="vertical", size=4, thickness=1, yOffset=-2, opacity=0.55).encode(
        x=alt.X("m:Q", scale=xs, axis=xaxis, title=xtitle),
        y=alt.Y("rug:Q", scale=ys, axis=yaxis, title=ytitle),
        color=color,
    )
    pts = base.mark_circle(size=21, opacity=1).encode(
        x=alt.X("m:Q", scale=xs, axis=xaxis, title=xtitle),
        y=alt.Y("y:Q", scale=ys, axis=yaxis, title=ytitle),
        color=color,
    )
    return alt.layer(rug, pts).properties(width=PW, height=PH)


def dag(c):
    edges = DAG_EDGES[c]
    if edges is None:
        return blank(PW, DAG_H)
    sh = DAG_SHIFT[c]
    X = lambda f: alt.X(f, scale=pix(PW), axis=None)
    Y = lambda f: alt.Y(f, scale=pix(DAG_H), axis=None)
    boxes = pd.DataFrame({"x": [v + sh for v in DAG_BOX_X], "x2": [v + sh for v in DAG_BOX_X2],
                          "y": DAG_BOX_Y, "y2": DAG_BOX_Y2})
    letters = pd.DataFrame({"x": [v + sh for v in DAG_LABEL_X], "y": DAG_LABEL_Y, "txt": DAG_NODES})
    subs = pd.DataFrame({"x": [v + sh for v in DAG_SUB_X], "y": DAG_SUB_Y, "txt": ["i"] * 3})
    rows = []
    for name, (fx, fy), (tx, ty), col in zip(DAG_EDGE_NAMES, DAG_EDGE_FROM, DAG_EDGE_TIP, DAG_EDGE_COLOR):
        if name not in edges:
            continue
        dx, dy = tx - fx, ty - fy
        L = math.hypot(dx, dy)
        ux, uy = dx / L, dy / L
        hx, hy = tx - ux * HEAD_LEN / 2, ty - uy * HEAD_LEN / 2
        ang = math.degrees(math.atan2(dy, dx)) % 360
        rows.append({"x": fx + sh, "y": fy, "x2": hx + sh, "y2": hy, "hx": hx + sh, "hy": hy,
                     "ang": ang, "col": col})
    arr = pd.DataFrame(rows)
    lines = alt.Chart(arr).mark_rule(strokeWidth=2).encode(
        x=X("x:Q"), y=Y("y:Q"), x2="x2:Q", y2="y2:Q", color=alt.Color("col:N", scale=None))
    heads = alt.Chart(arr).mark_point(shape=ARROW_PATH, filled=True, size=HEAD_LEN ** 2, opacity=1,
                                      strokeWidth=0).encode(
        x=X("hx:Q"), y=Y("hy:Q"), angle=alt.Angle("ang:Q", scale=None),
        color=alt.Color("col:N", scale=None))
    rects = alt.Chart(boxes).mark_rect(color=BOX_GRAY).encode(
        x=X("x:Q"), x2="x2:Q", y=Y("y:Q"), y2="y2:Q")
    lt = alt.Chart(letters).mark_text(font="Liberation Serif", fontStyle="italic", fontSize=16,
                                      color="#222222", baseline="alphabetic", align="center").encode(
        x=X("x:Q"), y=Y("y:Q"), text="txt:N")
    st = alt.Chart(subs).mark_text(font="Liberation Serif", fontStyle="italic", fontSize=11,
                                   color="#222222", baseline="alphabetic", align="center").encode(
        x=X("x:Q"), y=Y("y:Q"), text="txt:N")
    return alt.layer(lines, heads, rects, lt, st).properties(width=PW, height=DAG_H)


def strip(label):
    d = pd.DataFrame({"label": [label]})
    box = alt.Chart(d).mark_rect(fill="white", stroke="black", strokeWidth=1.5).encode(
        x=alt.value(0.75), x2=alt.value(PW - 0.75), y=alt.value(0.75), y2=alt.value(STRIP_BOX_H))
    txt = alt.Chart(d).mark_text(fontSize=20, font=FONT, color="black", baseline="middle",
                                 align="center").encode(
        x=alt.value(PW / 2), y=alt.value(STRIP_BOX_H / 2 + 0.5), text="label:N")
    return alt.layer(box, txt).properties(width=PW, height=STRIP_H)


def row_strip(label):
    d = pd.DataFrame({"label": [label]})
    box = alt.Chart(d).mark_rect(fill="white", stroke="black", strokeWidth=1.5).encode(
        x=alt.value(-10.75), x2=alt.value(RS_W - 0.75), y=alt.value(0.75), y2=alt.value(PH - 0.75))
    txt = alt.Chart(d).mark_text(fontSize=20, font=FONT, color="black", baseline="middle",
                                 align="center", angle=90).encode(
        x=alt.value(7), y=alt.value(PH / 2), text="label:N")
    return alt.layer(box, txt).properties(width=RS_W, height=PH)


def legend():
    ld = pd.DataFrame({"t": TREATMENTS, "ly": [148, 181]})
    color = alt.Color("t:N", scale=alt.Scale(domain=TREATMENTS, range=[PURPLE, ORANGE]), legend=None)
    ys = alt.Y("ly:Q", scale=pix(PH), axis=None)
    title = alt.Chart(pd.DataFrame({"s": ["Treatment"]})).mark_text(
        fontSize=22, font=FONT, color="black", align="left", baseline="alphabetic").encode(
        x=alt.value(18.5), y=alt.value(117), text="s:N")
    lines = alt.Chart(ld).mark_rule(strokeWidth=1.2, opacity=0.5).encode(
        x=alt.value(23.5), x2=alt.value(49.5), y=ys, color=color)
    dots = alt.Chart(ld).mark_circle(size=21, opacity=1).encode(x=alt.value(36.5), y=ys, color=color)
    labs = alt.Chart(ld).mark_text(fontSize=16, font=FONT, color="black", align="left",
                                   baseline="middle").encode(x=alt.value(65.5), y=ys, text="t:N")
    return alt.layer(title, lines, dots, labs).properties(width=LEG_W, height=PH)


cells = []
cells += [dag(c) for c in range(5)] + [blank(RS_W, 1), blank(LEG_W, 1)]
cells += [strip(m) for m in MODELS] + [blank(RS_W, 1), blank(LEG_W, 1)]
cells += [panel(0, c) for c in range(5)] + [row_strip(OUTCOMES[0]), legend()]
cells += [panel(1, c) for c in range(5)] + [row_strip(OUTCOMES[1]), blank(LEG_W, 1)]

chart = alt.concat(
    *cells, columns=7, spacing={"row": ROW_GAP, "column": COL_GAP}, bounds="flush"
).properties(
    padding={"left": 2, "top": 6, "right": 0, "bottom": 0},
    background="white",
).configure(font=FONT).configure_view(stroke=None, strokeWidth=0)

chart.save("out.html", embed_options={"renderer": "svg", "actions": False})
